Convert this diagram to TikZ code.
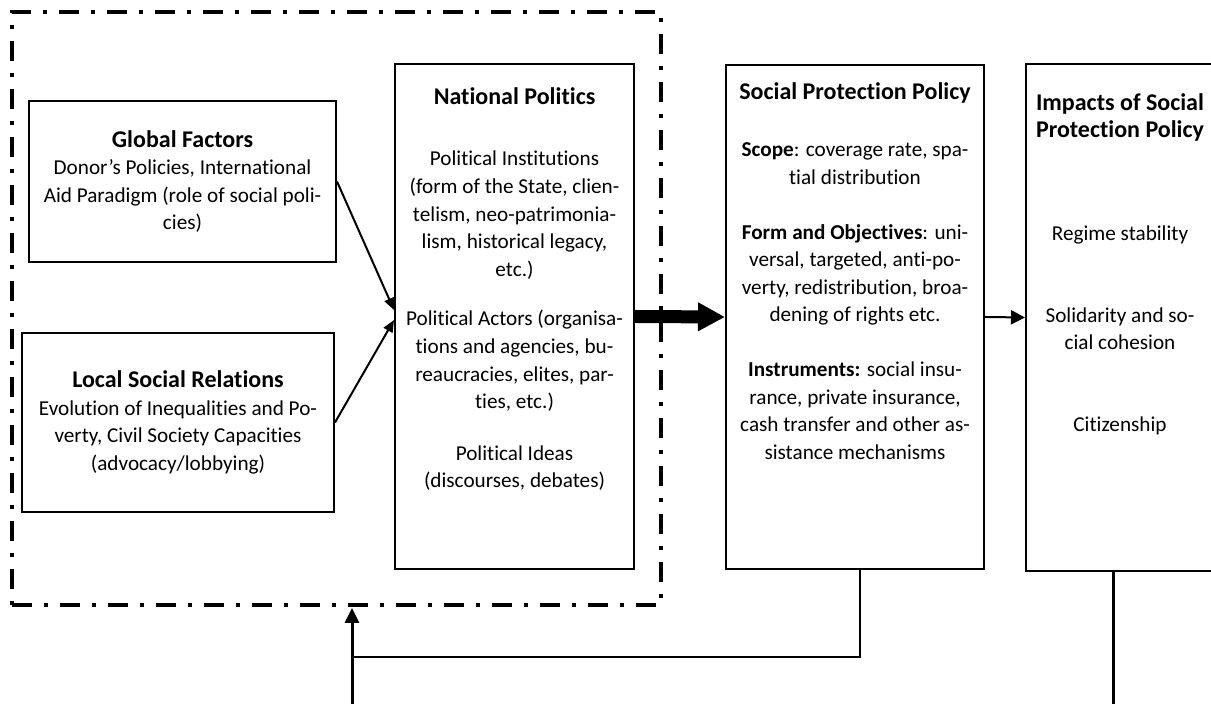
\documentclass[tikz,border=0pt]{standalone}
\usepackage{fontspec}
\setmainfont{Carlito}[Ligatures=NoCommon]
\usetikzlibrary{arrows.meta}

\newcommand\boxtitle[1]{{\fontsize{12}{14.5}\selectfont\bfseries #1}}

\begin{document}
\begin{tikzpicture}[x=0.5pt, y=-0.5pt,
	font=\fontsize{10.6}{13.8}\selectfont,
	pbox/.style={draw, line width=1pt, inner sep=0pt},
	dotframe/.style={draw, line width=2pt, dash pattern=on 10pt off 6pt on 2pt off 6pt, inner sep=0pt},
	txt/.style={align=center, inner sep=0pt},
	fwd/.style={line width=1pt, -{Triangle[length=6pt,width=5pt]}},
	bigarrow/.style={line width=6.5pt, -{Triangle[length=13.5pt,width=13.5pt]}},
	back/.style={line width=1.5pt}]

	\useasboundingbox (0,0) rectangle (1211,704);
	\clip (0,0) rectangle (1211,704);

		\node[dotframe, minimum width=324.5pt, minimum height=296.5pt] (frame) at (336.5,308.5) {};

		\node[pbox, align=center, minimum width=153.5pt, minimum height=80.5pt] (glob) at (182.5,181.5)
			{\boxtitle{Global Factors}\\Donor’s Policies, International\\Aid Paradigm (role of social poli-\\cies)};
		\node[pbox, align=center, minimum width=156pt, minimum height=89.5pt] (loc) at (178,422.5)
			{\boxtitle{Local Social Relations}\\Evolution of Inequalities and Po-\\verty, Civil Society Capacities\\(advocacy/lobbying)};

		\node[pbox, minimum width=119.5pt, minimum height=252.5pt] (nat) at (514.5,316.5) {};
		\node[txt, anchor=north] (nattxt) at ([yshift=-12pt]nat.north)
			{\boxtitle{National Politics}\\[17pt]Political Institutions\\(form of the State, clien-\\telism, neo-patrimonia-\\lism, historical legacy,\\etc.)\\[11pt]Political Actors (organisa-\\tions and agencies, bu-\\reaucracies, elites, par-\\ties, etc.)\\[12pt]Political Ideas\\(discourses, debates)};

		\node[pbox, minimum width=129pt, minimum height=252pt] (spp) at (855,317) {};
		\node[txt, anchor=north] (spptxt) at ([yshift=-9pt]spp.north)
			{\boxtitle{Social Protection Policy}\\[15pt]\textbf{Scope}: coverage rate, spa-\\tial distribution\\[13.5pt]\textbf{Form and Objectives}: uni-\\versal, targeted, anti-po-\\verty, redistribution, broa-\\dening of rights etc.\\[13.5pt]\textbf{Instruments:} social insu-\\rance, private insurance,\\cash transfer and other as-\\sistance mechanisms};

		\node[pbox, minimum width=94pt, minimum height=253.5pt] (imp) at (1120,317.5) {};
		\node[txt, anchor=north] (imptxt) at ([yshift=-15pt]imp.north)
			{\boxtitle{Impacts of Social}\\\boxtitle{Protection Policy}\\[37.5pt]Regime stability\\[27pt]Solidarity and so-\\cial cohesion\\[27pt]Citizenship};

		% forward links
		\draw[fwd] (glob.east) -- ([yshift=3.25pt]nat.west);
		\draw[fwd] (loc.east) -- ([yshift=-1.75pt]nat.west);
		\draw[bigarrow] (nat.east) -- (spp.west);
		\draw[line width=1pt, -{Triangle[length=7pt,width=7pt]}] (spp.east) -- (imp.west);

		% feedback
		\coordinate (fbup) at (352,608);
		\coordinate (fbjoin) at (352,657);
		\draw[line width=1pt] ([xshift=2.5pt]spp.south) |- (fbjoin);
		\draw[back, -{Triangle[length=7.5pt,width=7pt]}] ([xshift=-3.5pt]imp.south) -- ++(0,160) -| (fbup);

\end{tikzpicture}
\end{document}
